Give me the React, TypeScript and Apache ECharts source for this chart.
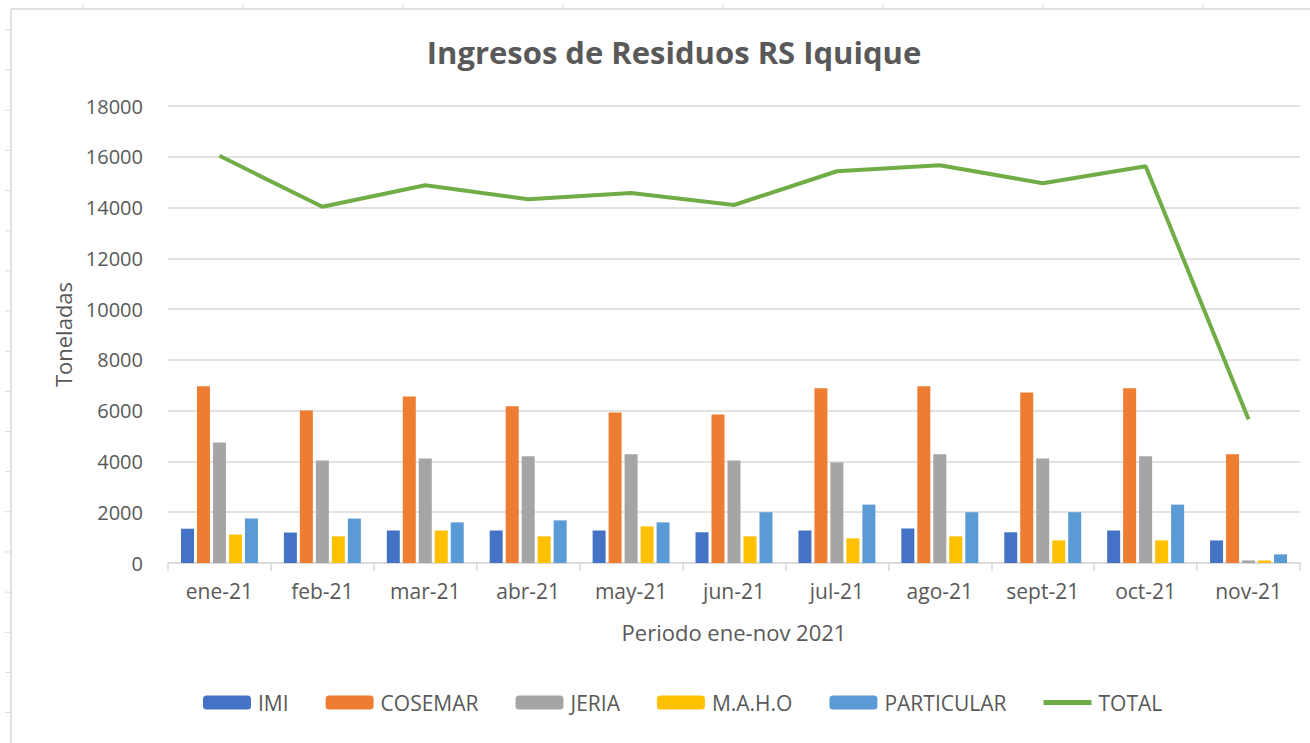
import React, { useEffect, useRef } from "react";
import * as echarts from "echarts";

const categories = ["ene-21", "feb-21", "mar-21", "abr-21", "may-21", "jun-21", "jul-21", "ago-21", "sept-21", "oct-21", "nov-21"];
const imi = [1350, 1200, 1280, 1280, 1280, 1210, 1280, 1360, 1210, 1280, 890];
const cosemar = [6960, 6010, 6560, 6170, 5930, 5850, 6880, 6960, 6720, 6880, 4280];
const jeria = [4750, 4040, 4120, 4200, 4280, 4040, 3960, 4280, 4120, 4200, 100];
const maho = [1120, 1050, 1280, 1050, 1440, 1050, 970, 1050, 890, 890, 100];
const particular = [1750, 1750, 1600, 1680, 1600, 2000, 2300, 2000, 2000, 2300, 340];
const total = [16040, 14030, 14880, 14330, 14570, 14100, 15430, 15670, 14960, 15630, 5660];

const FONT = "'Open Sans', 'Noto Sans', sans-serif";
const TXT = "#595959";

export default function App() {
  const ref = useRef<HTMLDivElement>(null);
  useEffect(() => {
    if (!ref.current) return;
    const chart = echarts.init(ref.current, null, { renderer: "svg" });
    const frame: any[] = [
      { type: "line", shape: { x1: 11, y1: 9, x2: 1310, y2: 9 }, style: { stroke: "#D9D9D9", lineWidth: 1.5 } },
      { type: "line", shape: { x1: 11, y1: 9, x2: 11, y2: 743 }, style: { stroke: "#D9D9D9", lineWidth: 1.5 } },
    ];
    for (let i = 0; i < 18; i++) {
      const y = 30 + i * 40.15;
      frame.push({ type: "line", shape: { x1: 5, y1: y, x2: 11, y2: y }, style: { stroke: "#D9D9D9", lineWidth: 1 } });
    }
    for (let i = 0; i < 8; i++) {
      const x = 83 + i * 160;
      frame.push({ type: "line", shape: { x1: x, y1: 4, x2: x, y2: 9 }, style: { stroke: "#D9D9D9", lineWidth: 1 } });
    }
    const barSeries = (name: string, data: number[], color: string) => ({
      name,
      type: "bar",
      data,
      barWidth: 13,
      barGap: "23%",
      itemStyle: { color },
    });
    chart.setOption({
      animation: false,
      backgroundColor: "#ffffff",
      textStyle: { fontFamily: FONT },
      title: {
        text: "Ingresos de Residuos RS Iquique",
        left: 669,
        top: 31,
        textAlign: "center",
        textStyle: { fontFamily: FONT, fontSize: 31, fontWeight: "bold", color: TXT },
      },
      graphic: frame,
      legend: {
        left: 198,
        top: 687,
        itemWidth: 48,
        itemHeight: 14,
        itemGap: 37,
        symbolKeepAspect: true,
        textStyle: { fontFamily: FONT, fontSize: 21, color: TXT, padding: [0, 0, 0, 2] },
        data: [
          "IMI",
          "COSEMAR",
          "JERIA",
          "M.A.H.O",
          "PARTICULAR",
          { name: "TOTAL", icon: "path://M0,0L48,0L48,5L0,5Z" },
        ],
      },
      grid: { left: 168, right: 10, top: 106, bottom: 180, containLabel: false },
      xAxis: {
        type: "category",
        data: categories,
        name: "Periodo ene-nov 2021",
        nameLocation: "middle",
        nameGap: 58,
        nameTextStyle: { fontFamily: FONT, fontSize: 22, color: TXT },
        axisLine: { lineStyle: { color: "#D9D9D9", width: 1.5 } },
        axisTick: { show: true, length: 8, lineStyle: { color: "#D9D9D9", width: 1.5 } },
        axisLabel: { fontFamily: FONT, fontSize: 21, color: TXT, margin: 17 },
      },
      yAxis: {
        type: "value",
        min: 0,
        max: 18000,
        interval: 2000,
        name: "Toneladas",
        nameLocation: "middle",
        nameGap: 94,
        nameTextStyle: { fontFamily: FONT, fontSize: 22, color: TXT },
        axisLine: { show: false },
        axisTick: { show: false },
        axisLabel: { fontFamily: FONT, fontSize: 20, color: TXT, margin: 25, formatter: (v: number) => String(v) },
        splitLine: { lineStyle: { color: "#D9D9D9", width: 1.5 } },
      },
      series: [
        barSeries("IMI", imi, "#4472C4"),
        barSeries("COSEMAR", cosemar, "#ED7D31"),
        barSeries("JERIA", jeria, "#A5A5A5"),
        barSeries("M.A.H.O", maho, "#FFC000"),
        barSeries("PARTICULAR", particular, "#5B9BD5"),
        {
          name: "TOTAL",
          type: "line",
          data: total,
          symbol: "none",
          z: 5,
          lineStyle: { color: "#70AD47", width: 4 },
          itemStyle: { color: "#70AD47" },
        },
      ],
    });
    return () => chart.dispose();
  }, []);
  return <div ref={ref} style={{ position: "fixed", left: 0, top: 0, width: 1310, height: 743 }} />;
}
